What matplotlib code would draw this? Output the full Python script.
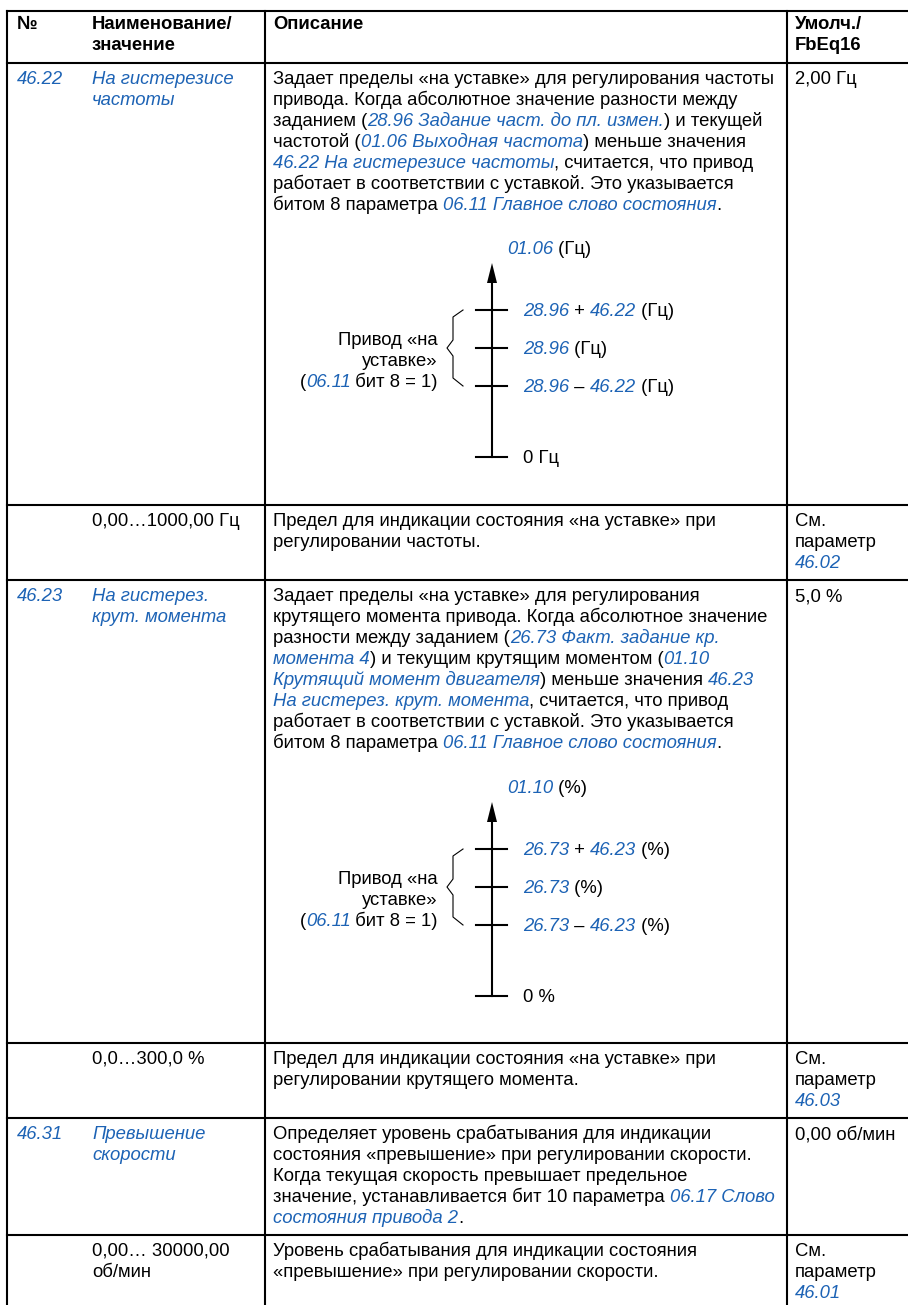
import matplotlib
matplotlib.use('Agg')
import matplotlib.pyplot as plt
from matplotlib.font_manager import FontProperties

BLUE = '#1d63b5'
FS = 13.35
LEAD = 21
FAMILY = ['Liberation Sans', 'DejaVu Sans']

# table content, [..] marks blue italic references
header = [['№'], ['Наименование/', 'значение'], ['Описание'], ['Умолч./', 'FbEq16']]

ids = ['[46.22]', '', '[46.23]', '', '[46.31]', '']
names = [
    ['[На гистерезисе]', '[частоты]'],
    ['0,00…1000,00 Гц'],
    ['[На гистерез.]', '[крут. момента]'],
    ['0,0…300,0 %'],
    ['[Превышение]', '[скорости]'],
    ['0,00… 30000,00', 'об/мин'],
]
descs = [
    ['Задает пределы «на уставке» для регулирования частоты',
     'привода. Когда абсолютное значение разности между',
     'заданием ([28.96 Задание част. до пл. измен.]) и текущей',
     'частотой ([01.06 Выходная частота]) меньше значения',
     '[46.22 На гистерезисе частоты], считается, что привод',
     'работает в соответствии с уставкой. Это указывается',
     'битом 8 параметра [06.11 Главное слово состояния].'],
    ['Предел для индикации состояния «на уставке» при',
     'регулировании частоты.'],
    ['Задает пределы «на уставке» для регулирования',
     'крутящего момента привода. Когда абсолютное значение',
     'разности между заданием ([26.73 Факт. задание кр.]',
     '[момента 4]) и текущим крутящим моментом ([01.10]',
     '[Крутящий момент двигателя]) меньше значения [46.23]',
     '[На гистерез. крут. момента], считается, что привод',
     'работает в соответствии с уставкой. Это указывается',
     'битом 8 параметра [06.11 Главное слово состояния].'],
    ['Предел для индикации состояния «на уставке» при',
     'регулировании крутящего момента.'],
    ['Определяет уровень срабатывания для индикации',
     'состояния «превышение» при регулировании скорости.',
     'Когда текущая скорость превышает предельное',
     'значение, устанавливается бит 10 параметра [06.17 Слово]',
     '[состояния привода 2].'],
    ['Уровень срабатывания для индикации состояния',
     '«превышение» при регулировании скорости.'],
]
defaults = [
    ['2,00 Гц'],
    ['См.', 'параметр', '[46.02]'],
    ['5,0 %'],
    ['См.', 'параметр', '[46.03]'],
    ['0,00 об/мин'],
    ['См.', 'параметр', '[46.01]'],
]
row_tops = [63, 505, 580, 1043, 1118, 1235]

# the two hysteresis diagrams
diag_axis = ['[01.06] (Гц)', '[01.10] (%)']
diag_ticks = [
    ['[28.96] + [46.22] (Гц)', '[28.96] (Гц)', '[28.96] – [46.22] (Гц)'],
    ['[26.73] + [46.23] (%)', '[26.73] (%)', '[26.73] – [46.23] (%)'],
]
diag_zero = ['0 Гц', '0 %']
diag_note = ['Привод «на', 'уставке»', '([06.11] бит 8 = 1)']
diag_top = [248, 787]

fig = plt.figure(figsize=(9.08, 13.05), dpi=100)
ax = fig.add_axes([0, 0, 1, 1])
ax.set_xlim(0, 908)
ax.set_ylim(1305, 0)
ax.axis('off')
renderer = fig.canvas.get_renderer()


def props(link, bold=False):
    return FontProperties(family=FAMILY, size=FS,
                          style='italic' if link else 'normal',
                          weight='bold' if bold else 'normal')


def seg_width(s, fp):
    # sentinels keep leading/trailing spaces in the measurement
    w1 = renderer.get_text_width_height_descent('x' + s + 'x', fp, ismath=False)[0]
    w0 = renderer.get_text_width_height_descent('xx', fp, ismath=False)[0]
    return w1 - w0


def parse(s):
    parts = s.replace(']', '[').split('[')
    return [(p, i % 2 == 1) for i, p in enumerate(parts) if p]


def line(x, yc, s, ha='left', bold=False):
    segs = parse(s)
    if ha == 'right':
        x -= sum(seg_width(p, props(l, bold)) for p, l in segs)
    for p, l in segs:
        fp = props(l, bold)
        ax.text(x, yc + 6, p, fontproperties=fp, color=BLUE if l else 'black',
                va='baseline', ha='left')
        x += seg_width(p, fp)


def block(x, y0, lines, bold=False):
    for i, s in enumerate(lines):
        line(x, y0 + i * LEAD, s, bold=bold)


LW = 1.5
cols = [17, 92, 273, 795]

# grid
for y in [11] + row_tops:
    ax.plot([7, 908], [y, y], color='black', lw=LW, solid_capstyle='projecting')
for x in [7, 265, 787]:
    ax.plot([x, x], [11, 1305], color='black', lw=LW, solid_capstyle='projecting')

# header
for x, h in zip(cols, header):
    block(x, 23, h, bold=True)

# rows
for top, i_, n, d, df in zip(row_tops, ids, names, descs, defaults):
    y0 = top + 15
    if i_:
        line(cols[0], y0, i_)
    block(cols[1], y0, n)
    block(cols[2], y0, d)
    block(cols[3], y0, df)

# diagrams
AX = 492
for k in range(2):
    t = diag_top[k]
    line(507, t, diag_axis[k])
    tip = t + 15
    base = tip + 20
    ax.fill([AX - 5, AX + 5, AX], [base, base, tip], color='black', lw=0)
    ticks = [t + 62, t + 100, t + 138]
    zero = t + 209
    ax.plot([AX, AX], [base - 2, zero], color='black', lw=LW)
    for ty, lab in zip(ticks + [zero], diag_ticks[k] + [diag_zero[k]]):
        ax.plot([AX - 16, AX + 15], [ty, ty], color='black', lw=LW)
        line(523, ty, lab)
    tt, tm, tb = ticks
    ax.plot([463, 453, 453, 447, 453, 453, 463],
            [tt, tt + 7, tm - 8, tm, tm + 8, tb - 8, tb],
            color='black', lw=0.8)
    for j, s in enumerate(diag_note):
        line(438, tm - 9 + j * LEAD, s, ha='right')

fig.savefig('out.png', dpi=100)
